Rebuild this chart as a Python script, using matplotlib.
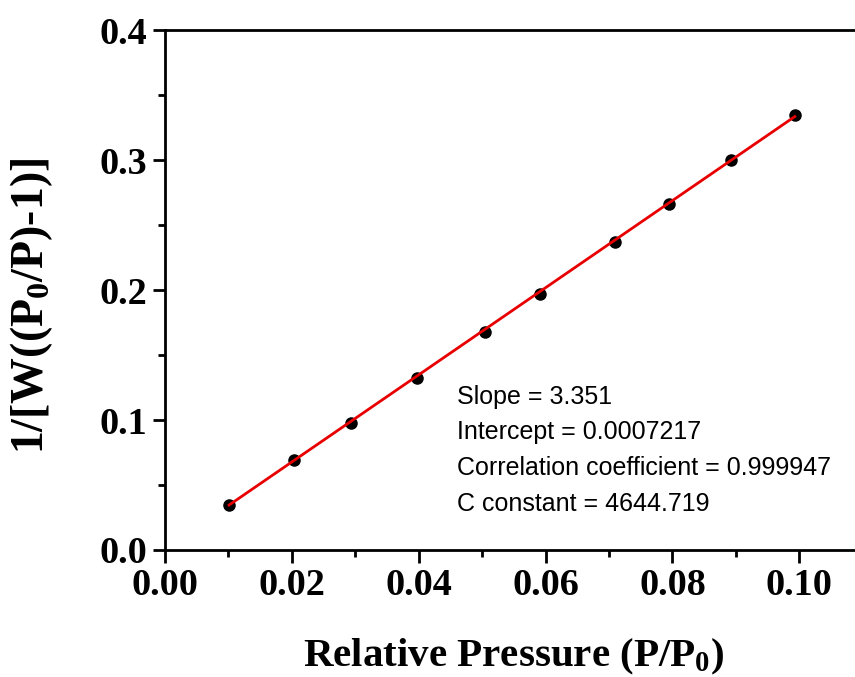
import matplotlib
matplotlib.use("Agg")
from matplotlib import pyplot as plt
from matplotlib.ticker import MultipleLocator, FormatStrFormatter

# BET data
rel_pressure = [0.0101, 0.0204, 0.0294, 0.0398, 0.0505, 0.0591, 0.0709, 0.0795, 0.0893, 0.0993]
bet_value = [0.035, 0.069, 0.098, 0.132, 0.168, 0.197, 0.237, 0.266, 0.300, 0.335]

slope = 3.351
intercept = 0.0007217
fit_text = ["Slope = 3.351",
            "Intercept = 0.0007217",
            "Correlation coefficient = 0.999947",
            "C constant = 4644.719"]

plt.rcParams['mathtext.fontset'] = 'custom'
plt.rcParams['mathtext.rm'] = 'Liberation Serif:bold'
plt.rcParams['mathtext.bf'] = 'Liberation Serif:bold'
plt.rcParams['mathtext.default'] = 'bf'

fig = plt.figure(figsize=(8.55, 6.77), dpi=100)
ax = fig.add_axes([0.193, 0.1876, 0.816, 0.768])

fit_x = [rel_pressure[0], rel_pressure[-1]]
fit_y = [slope * x + intercept for x in fit_x]

ax.plot(rel_pressure, bet_value, 'o', color='black', markersize=8, zorder=3)
ax.plot(fit_x, fit_y, '-', color='#e80000', linewidth=2, zorder=4)

ax.set_xlim(0, 0.11)
ax.set_ylim(0, 0.4)
ax.xaxis.set_major_locator(MultipleLocator(0.02))
ax.xaxis.set_minor_locator(MultipleLocator(0.01))
ax.yaxis.set_major_locator(MultipleLocator(0.1))
ax.yaxis.set_minor_locator(MultipleLocator(0.05))
ax.xaxis.set_major_formatter(FormatStrFormatter('%.2f'))
ax.yaxis.set_major_formatter(FormatStrFormatter('%.1f'))

for s in ax.spines.values():
    s.set_linewidth(2)
ax.tick_params(which='major', direction='out', length=9, width=2, pad=4)
ax.tick_params(which='minor', direction='out', length=5, width=2)
for lab in ax.get_xticklabels() + ax.get_yticklabels():
    lab.set_fontfamily('Liberation Serif')
    lab.set_fontweight('bold')
    lab.set_fontsize(27.5)

ax.set_xlabel("Relative Pressure (P/P$_0$)", fontfamily='Liberation Serif',
              fontweight='bold', fontsize=29.5, labelpad=24)
ax.set_ylabel("1/[W((P$_0$/P)-1)]", fontfamily='Liberation Serif',
              fontweight='bold', fontsize=33)
ax.yaxis.set_label_coords(-0.158, 0.47)

for i, t in enumerate(fit_text):
    ax.text(0.046, 0.118 - i * 0.0276, t, fontfamily='Liberation Sans',
            fontsize=18, va='center', ha='left')

fig.savefig("out.png", dpi=100)
